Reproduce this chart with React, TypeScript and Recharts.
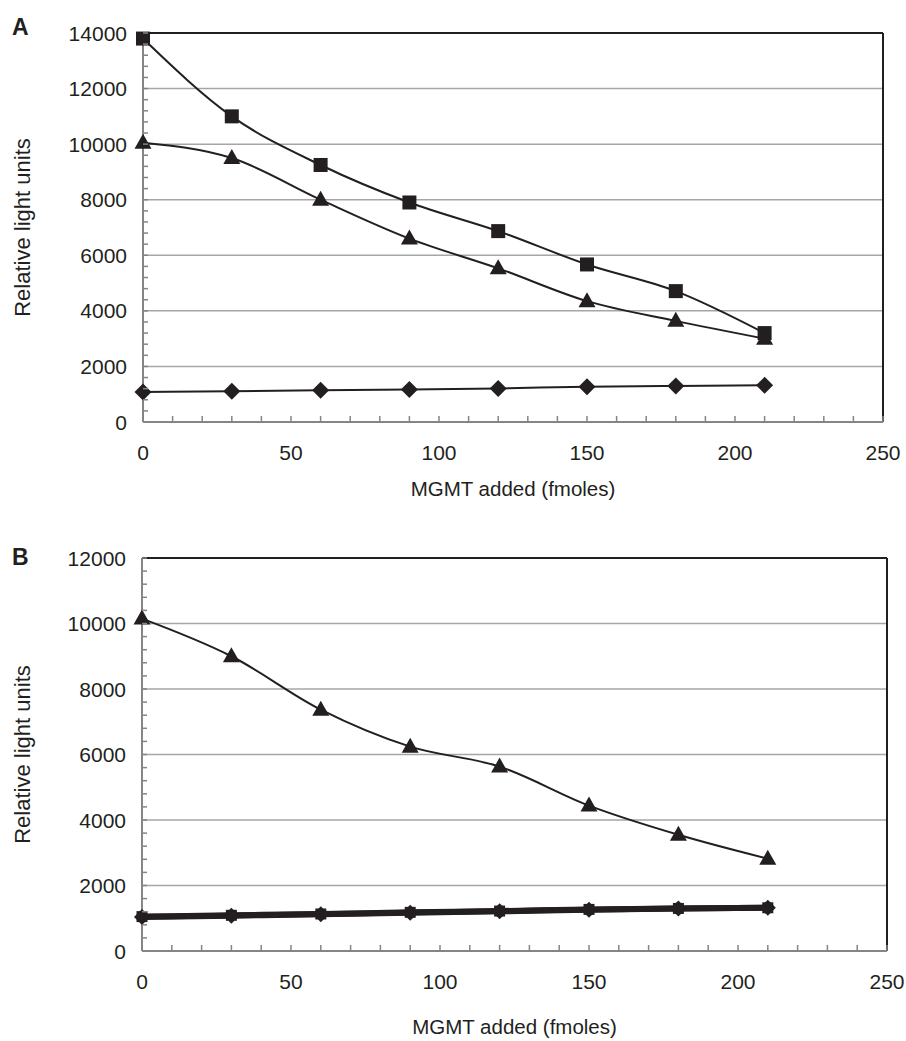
import React from 'react';
import { LineChart, Line, XAxis, YAxis, ReferenceLine, Label } from 'recharts';

// MGMT added (fmoles)
const mgmtFmoles = [0, 30, 60, 90, 120, 150, 180, 210];

// panel A
const squaresA = [13800, 11000, 9250, 7900, 6870, 5670, 4710, 3200];
const trianglesA = [10050, 9500, 8000, 6600, 5530, 4350, 3640, 3000];
const diamondsA = [1080, 1110, 1140, 1170, 1210, 1270, 1300, 1320];

// panel B
const trianglesB = [10150, 9000, 7370, 6240, 5630, 4440, 3550, 2820];
const squaresB = [1050, 1090, 1130, 1180, 1220, 1270, 1300, 1320];
const diamondsB = [1040, 1080, 1120, 1170, 1210, 1260, 1300, 1320];

// axis labels
const xLabels = [0, 50, 100, 150, 200, 250];
const yLabelsA = [0, 2000, 4000, 6000, 8000, 10000, 12000, 14000];
const yLabelsB = [0, 2000, 4000, 6000, 8000, 10000, 12000];

const INK = '#231f20';
const AXIS_GRAY = '#858585';
const GRID_GRAY = '#a6a6a6';
const FONT = '"Liberation Sans", Arial, Helvetica, sans-serif';
const FS = 21;

const minorTicks = (max: number, step: number) => {
  const out: number[] = [];
  for (let v = 0; v <= max; v += step) out.push(v);
  return out;
};

const SquareDot = (size: number) => (p: any) => {
  if (p.cx == null || p.cy == null) return <g key={p.key} />;
  return <rect key={p.key} x={p.cx - size / 2} y={p.cy - size / 2} width={size} height={size} fill={INK} />;
};

const DiamondDot = (r: number) => (p: any) => {
  if (p.cx == null || p.cy == null) return <g key={p.key} />;
  const { cx, cy } = p;
  return <polygon key={p.key} points={`${cx},${cy - r} ${cx + r},${cy} ${cx},${cy + r} ${cx - r},${cy}`} fill={INK} />;
};

const TriangleDot = (p: any) => {
  if (p.cx == null || p.cy == null) return <g key={p.key} />;
  const { cx, cy } = p;
  return <polygon key={p.key} points={`${cx},${cy - 9} ${cx + 8.5},${cy + 6} ${cx - 8.5},${cy + 6}`} fill={INK} />;
};

const makeYTick = (labels: number[]) => (props: any) => {
  const { x, y, payload } = props;
  const v = payload.value;
  return (
    <g>
      {v !== 0 && <line x1={x + 16} x2={x + 21} y1={y} y2={y} stroke={AXIS_GRAY} strokeWidth={1.5} />}
      {labels.includes(v) && (
        <text x={x} y={y} dy="0.36em" textAnchor="end" fontSize={FS} fontFamily={FONT} fill={INK}>
          {v}
        </text>
      )}
    </g>
  );
};

const XTick = (props: any) => {
  const { x, y, payload } = props;
  const v = payload.value;
  return (
    <g>
      {v !== 0 && <line x1={x} x2={x} y1={y - 30} y2={y - 36} stroke={AXIS_GRAY} strokeWidth={1.5} />}
      {xLabels.includes(v) && (
        <text x={x} y={y} dy="0.36em" textAnchor="middle" fontSize={FS} fontFamily={FONT} fill={INK}>
          {v}
        </text>
      )}
    </g>
  );
};

interface SeriesDef {
  key: string;
  values: number[];
  dot: (p: any) => React.ReactElement;
  width: number;
}

interface PanelProps {
  letter: string;
  top: number;
  height: number;
  margin: { top: number; right: number; left: number; bottom: number };
  yAxisWidth: number;
  xAxisHeight: number;
  titleDy: number;
  yMax: number;
  yLabels: number[];
  series: SeriesDef[];
}

const Panel: React.FC<PanelProps> = ({ letter, top, height, margin, yAxisWidth, xAxisHeight, titleDy, yMax, yLabels, series }) => {
  const data = mgmtFmoles.map((x, i) => {
    const row: Record<string, number> = { x };
    series.forEach(s => { row[s.key] = s.values[i]; });
    return row;
  });
  const grid = yLabels.filter(v => v !== 0 && v !== yMax);

  return (
    <div style={{ position: 'absolute', left: 0, top, width: 906, height }}>
      <div style={{ position: 'absolute', left: 12, top: letter === 'A' ? 14 : 24, fontFamily: FONT, fontWeight: 'bold', fontSize: 23, lineHeight: '26px', color: INK }}>
        {letter}
      </div>
      <LineChart width={906} height={height} data={data} margin={margin}>
        <XAxis
          dataKey="x"
          type="number"
          domain={[0, 250]}
          ticks={minorTicks(250, 10)}
          interval={0}
          height={xAxisHeight}
          tickSize={0}
          tickMargin={30}
          tickLine={false}
          tick={XTick}
          axisLine={{ stroke: AXIS_GRAY, strokeWidth: 2 }}
        >
          <Label
            content={({ viewBox }: any) => (
              <text x={viewBox.x + viewBox.width / 2} y={viewBox.y + titleDy} textAnchor="middle" fontSize={20.5} fontFamily={FONT} fill={INK}>
                MGMT added (fmoles)
              </text>
            )}
          />
        </XAxis>
        <YAxis
          type="number"
          domain={[0, yMax]}
          ticks={minorTicks(yMax, 400)}
          interval={0}
          width={yAxisWidth}
          tickSize={0}
          tickMargin={16}
          tickLine={false}
          tick={makeYTick(yLabels)}
          axisLine={{ stroke: AXIS_GRAY, strokeWidth: 2 }}
        >
          <Label
            content={({ viewBox }: any) => {
              const cy = viewBox.y + viewBox.height / 2;
              return (
                <text x={22} y={cy} transform={`rotate(-90 22 ${cy})`} textAnchor="middle" dominantBaseline="central" fontSize={22} fontFamily={FONT} fill={INK}>
                  Relative light units
                </text>
              );
            }}
          />
        </YAxis>
        {grid.map(v => (
          <ReferenceLine key={v} y={v} stroke={GRID_GRAY} strokeWidth={1.5} />
        ))}
        <ReferenceLine y={yMax} stroke={INK} strokeWidth={2} />
        <ReferenceLine x={250} stroke={INK} strokeWidth={2} />
        {series.map(s => (
          <Line
            key={s.key}
            dataKey={s.key}
            type="monotone"
            stroke={INK}
            strokeWidth={s.width}
            dot={s.dot}
            activeDot={false}
            isAnimationActive={false}
          />
        ))}
      </LineChart>
    </div>
  );
};

export default function App() {
  return (
    <div style={{ position: 'absolute', left: 0, top: 0, width: 906, height: 1041, background: '#fff' }}>
      <Panel
        letter="A"
        top={0}
        height={510}
        margin={{ top: 33, right: 23, left: 0, bottom: 0 }}
        yAxisWidth={143}
        xAxisHeight={88}
        titleDy={74}
        yMax={14000}
        yLabels={yLabelsA}
        series={[
          { key: 'diamondsA', values: diamondsA, dot: DiamondDot(8.5), width: 2 },
          { key: 'trianglesA', values: trianglesA, dot: TriangleDot, width: 2 },
          { key: 'squaresA', values: squaresA, dot: SquareDot(14), width: 2 },
        ]}
      />
      <Panel
        letter="B"
        top={520}
        height={521}
        margin={{ top: 38, right: 19, left: 0, bottom: 0 }}
        yAxisWidth={142}
        xAxisHeight={90}
        titleDy={83}
        yMax={12000}
        yLabels={yLabelsB}
        series={[
          { key: 'trianglesB', values: trianglesB, dot: TriangleDot, width: 2 },
          { key: 'squaresB', values: squaresB, dot: SquareDot(11), width: 6 },
          { key: 'diamondsB', values: diamondsB, dot: DiamondDot(8), width: 6 },
        ]}
      />
    </div>
  );
}
